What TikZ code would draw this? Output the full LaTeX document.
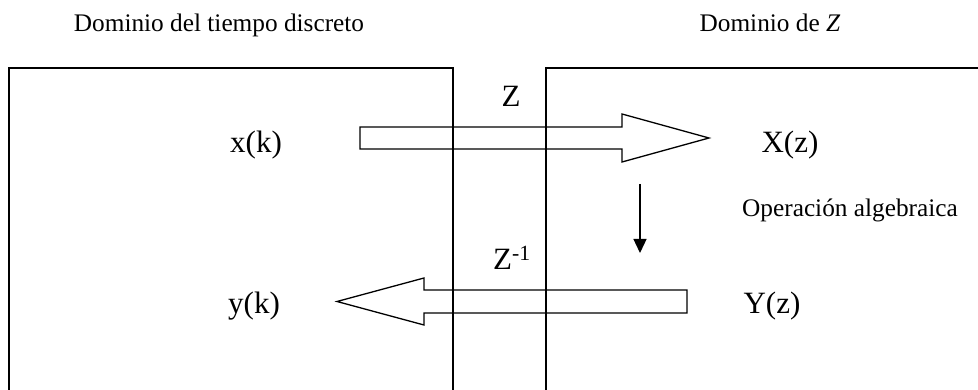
\documentclass[tikz,border=0pt]{standalone}
\usepackage{fontspec}
\setmainfont{Liberation Serif}
\usetikzlibrary{arrows.meta}
\begin{document}
\begin{tikzpicture}[x=1pt,y=-1pt,
  line join=miter,
  boxline/.style={line width=1.3pt},
  blockarrow/.style={line width=1.3pt},
  small/.style={anchor=base, inner sep=0pt, font=\fontsize{25.3}{29}\selectfont},
  big/.style={anchor=base, inner sep=0pt, font=\fontsize{31}{36}\selectfont},
  opstep/.style={line width=1.3pt, -{Triangle[length=14pt,width=13pt]}}]
\useasboundingbox (0,0) rectangle (978,390);
% domain boxes (open at bottom / right)
\draw[boxline] (9,390) -- (9,68) -- (453,68) -- (453,390);
\draw[boxline] (546,390) -- (546,68) -- (978,68);
% titles
\node[small] (t1) at (219,32) {Dominio del tiempo discreto};
\node[small] (t2) at (770,32) {Dominio de \textit{Z}};
% signals
\node[big] (xk) at (256,153) {x(k)};
\node[big] (Xz) at (790,153) {X(z)};
\node[big] (yk) at (254,314) {y(k)};
\node[big] (Yz) at (772,314) {Y(z)};
\node[big] (Zt) at (511,107) {Z};
\node[big] (Zi) at (512,270) {Z\textsuperscript{-1}};
\node[small] (op) at (850,217) {Operación algebraica};
% block arrows
\draw[blockarrow] (360,127) -- (622,127) -- (622,114) -- (709,138) -- (622,162) -- (622,149) -- (360,149) -- cycle;
\draw[blockarrow] (687,290) -- (424,290) -- (424,278) -- (337,301.5) -- (424,325) -- (424,313) -- (687,313) -- cycle;
% algebraic operation arrow
\coordinate (opA) at (640,184);
\coordinate (opB) at (640,253);
\draw[opstep] (opA) -- (opB);
\end{tikzpicture}
\end{document}
